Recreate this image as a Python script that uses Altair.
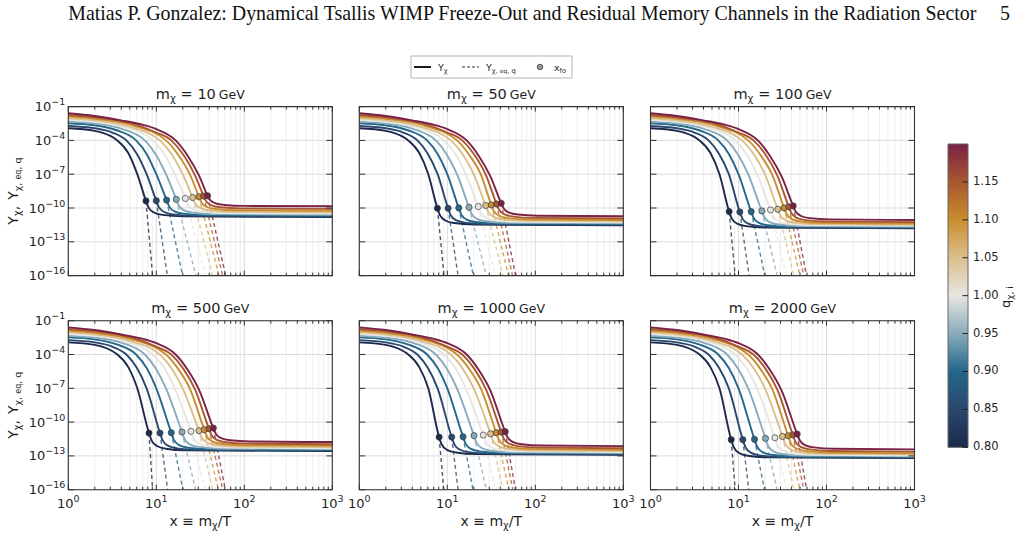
import altair as alt
import pandas as pd

# ---------------- values ----------------
Q = [0.80, 0.85, 0.90, 0.95, 1.00, 1.05, 1.10, 1.15, 1.20]
Q_COLORS = ["#1c294c", "#2a476d", "#23678a", "#88abbb", "#e7e6e1",
            "#dbbe8c", "#ca8d2d", "#a8572f", "#7b2145"]
MASSES = ["10", "50", "100", "500", "1000", "2000"]

# equilibrium branch (log10 x, log10 Y) before freeze-out, one list per q
EQ_LOGX = [
    [0.00, 0.30, 0.477, 0.557, 0.68, 0.784],
    [0.00, 0.30, 0.50, 0.66, 0.78, 0.89],
    [0.00, 0.30, 0.55, 0.77, 0.89, 1.00],
    [0.00, 0.30, 0.60, 0.87, 0.99, 1.11],
    [0.00, 0.30, 0.65, 0.96, 1.09, 1.21],
    [0.00, 0.30, 0.70, 1.04, 1.18, 1.30],
    [0.00, 0.30, 0.70, 1.11, 1.25, 1.38],
    [0.00, 0.30, 0.70, 1.00, 1.17, 1.31, 1.44],
    [0.00, 0.30, 0.60, 0.85, 1.00, 1.22, 1.36, 1.49],
]
EQ_LOGY = [
    [-2.92, -3.15, -3.60, -4.0, -5.1, -7.0],
    [-2.72, -2.92, -3.30, -4.0, -5.2, -7.0],
    [-2.48, -2.66, -3.10, -4.0, -5.2, -7.0],
    [-2.33, -2.50, -2.95, -4.0, -5.2, -7.0],
    [-2.18, -2.35, -2.85, -4.0, -5.2, -7.0],
    [-2.04, -2.22, -2.80, -4.0, -5.3, -7.0],
    [-1.89, -2.08, -2.60, -4.0, -5.3, -7.0],
    [-1.74, -1.95, -2.45, -3.3, -4.0, -5.3, -7.1],
    [-1.59, -1.83, -2.22, -2.62, -3.0, -4.0, -5.4, -7.2],
]

# freeze-out points x_fo (log10 x, log10 Y) per panel and q
FO_LOGX = [
    [0.883, 1.000, 1.117, 1.227, 1.330, 1.413, 1.485, 1.538, 1.583],
    [0.888, 1.009, 1.130, 1.247, 1.352, 1.436, 1.500, 1.560, 1.613],
    [0.894, 1.015, 1.144, 1.265, 1.364, 1.447, 1.519, 1.572, 1.621],
    [0.917, 1.042, 1.170, 1.292, 1.394, 1.485, 1.545, 1.598, 1.648],
    [0.907, 1.050, 1.179, 1.303, 1.409, 1.492, 1.557, 1.613, 1.658],
    [0.917, 1.049, 1.182, 1.307, 1.413, 1.500, 1.564, 1.617, 1.667],
]
FO_LOGY = [
    [-9.37, -9.35, -9.30, -9.23, -9.15, -9.07, -9.00, -8.94, -8.91],
    [-10.02, -10.02, -9.99, -9.93, -9.87, -9.78, -9.72, -9.64, -9.58],
    [-10.32, -10.35, -10.32, -10.26, -10.17, -10.11, -9.99, -9.90, -9.81],
    [-10.97, -10.97, -10.94, -10.88, -10.82, -10.76, -10.67, -10.58, -10.53],
    [-11.33, -11.33, -11.30, -11.20, -11.15, -11.03, -10.94, -10.88, -10.85],
    [-11.56, -11.56, -11.53, -11.45, -11.39, -11.27, -11.21, -11.12, -11.06],
]
# where each dashed Y_eq curve reaches 1e-16 (log10 x)
EQ_END_LOGX = [
    [0.958, 1.125, 1.299, 1.450, 1.561, 1.640, 1.712, 1.754, 1.788],
    [0.963, 1.122, 1.296, 1.443, 1.545, 1.632, 1.696, 1.741, 1.776],
    [0.962, 1.121, 1.299, 1.439, 1.545, 1.629, 1.697, 1.742, 1.773],
    [0.958, 1.129, 1.303, 1.447, 1.553, 1.640, 1.705, 1.754, 1.784],
    [0.960, 1.122, 1.292, 1.443, 1.545, 1.632, 1.700, 1.745, 1.775],
    [0.962, 1.117, 1.295, 1.439, 1.545, 1.629, 1.697, 1.742, 1.773],
]
END_LOGY = -16.0
# relic plateau (log10 Y) per panel and q
PLATEAU_LOGY = [
    [-10.80, -10.75, -10.68, -10.60, -10.50, -10.38, -10.25, -10.08, -9.85],
    [-11.53, -11.49, -11.43, -11.36, -11.28, -11.18, -11.07, -10.93, -10.73],
    [-11.80, -11.76, -11.71, -11.65, -11.57, -11.48, -11.38, -11.25, -11.06],
    [-12.57, -12.53, -12.47, -12.40, -12.32, -12.22, -12.11, -11.97, -11.77],
    [-12.90, -12.86, -12.80, -12.74, -12.66, -12.56, -12.46, -12.32, -12.13],
    [-13.20, -13.16, -13.10, -13.04, -12.96, -12.86, -12.76, -12.62, -12.42],
]
# settling after freeze-out: offset in log10 x, share of the drop
SETTLE_DLOGX = [0.03, 0.09, 0.19, 0.42]
SETTLE_FRAC = [0.42, 0.72, 0.87, 0.96]
LOGX_MAX = 3.0

X_MAJOR = [1, 10, 100, 1000]
X_EXP = ["0", "1", "2", "3"]
X_MINOR = [2, 3, 4, 5, 6, 7, 8, 9, 20, 30, 40, 50, 60, 70, 80, 90,
           200, 300, 400, 500, 600, 700, 800, 900]
Y_MAJOR = [1e-1, 1e-4, 1e-7, 1e-10, 1e-13, 1e-16]
Y_EXP = ["−1", "−4", "−7", "−10", "−13", "−16"]
CB_TICKS = [0.80, 0.85, 0.90, 0.95, 1.00, 1.05, 1.10, 1.15]
CB_LABELS = ["0.80", "0.85", "0.90", "0.95", "1.00", "1.05", "1.10", "1.15"]

HEADER = ("Matias P. Gonzalez: Dynamical Tsallis WIMP Freeze-Out and Residual "
          "Memory Channels in the Radiation Sector")
PAGE = "5"

# ---------------- tables ----------------
solid_rows, dash_rows, dot_rows = [], [], []
for p in range(6):
    for i, q in enumerate(Q):
        k = 0
        for lx, ly in zip(EQ_LOGX[i], EQ_LOGY[i]):
            solid_rows.append(dict(panel=p, q=q, k=k, x=10 ** lx, y=10 ** ly)); k += 1
        fx, fy, pl = FO_LOGX[p][i], FO_LOGY[p][i], PLATEAU_LOGY[p][i]
        solid_rows.append(dict(panel=p, q=q, k=k, x=10 ** fx, y=10 ** fy)); k += 1
        for dlx, fr in zip(SETTLE_DLOGX, SETTLE_FRAC):
            solid_rows.append(dict(panel=p, q=q, k=k, x=10 ** (fx + dlx),
                                   y=10 ** (fy - fr * (fy - pl)))); k += 1
        solid_rows.append(dict(panel=p, q=q, k=k, x=10 ** LOGX_MAX, y=10 ** pl))
        dash_rows.append(dict(panel=p, q=q, k=0, x=10 ** fx, y=10 ** fy))
        dash_rows.append(dict(panel=p, q=q, k=1, x=10 ** EQ_END_LOGX[p][i], y=10 ** END_LOGY))
        dot_rows.append(dict(panel=p, q=q, x=10 ** fx, y=10 ** fy))
solid_df = pd.DataFrame(solid_rows)
dash_df = pd.DataFrame(dash_rows)
dot_df = pd.DataFrame(dot_rows)
xmaj_df = pd.DataFrame({"v": X_MAJOR, "base": ["10"] * len(X_MAJOR), "sup": X_EXP})
xmin_df = pd.DataFrame({"v": X_MINOR})
ymaj_df = pd.DataFrame({"v": Y_MAJOR, "base": ["10"] * len(Y_MAJOR), "sup": Y_EXP,
                        "n": [len(s) for s in Y_EXP]})
cb_df = pd.DataFrame({"lo": [Q[0]], "hi": [Q[-1]]})
cbt_df = pd.DataFrame({"v": CB_TICKS, "lab": CB_LABELS})
ONE = pd.DataFrame({"k": [0]})

# ---------------- layout ----------------
PX0 = [68.3, 359.3, 650.5]
PY0 = [106.6, 320.7]
PW, PH = 264, 169
INK = "#1f1f1f"
FONT = "DejaVu Sans"
TICK_FS, SUP_FS = 13, 9.5

CW = {"0": .636, "1": .636, "2": .636, "3": .636, "4": .636, "5": .636, "6": .636,
      "7": .636, "8": .636, "9": .636, "m": .974, "x": .592, "Y": .611, "T": .611,
      "G": .776, "e": .615, "V": .684, "q": .635, "i": .278, "f": .352, "o": .612,
      ",": .318, " ": .318, "=": .838, "≡": .838, "/": .337, "χ": .593, "−": .838}


def tw(s, size):
    return sum(CW.get(ch, 0.6) for ch in s) * size


def label(s, x, y, size, angle=0, align="left", baseline="alphabetic", font=FONT, color=INK):
    kw = dict(text=s, align=align, baseline=baseline, fontSize=size, font=font, color=color)
    if angle:
        kw["angle"] = angle
    return alt.Chart(ONE).mark_text(**kw).encode(x=alt.value(x), y=alt.value(y))


def rich_h(pieces, x, base, center=True):
    total = sum(tw(t, s) if t is not None else s for t, s, d in pieces)
    cx = x - total / 2 if center else x
    out = []
    for t, s, d in pieces:
        if t is None:
            cx += s
            continue
        lead = len(t) - len(t.lstrip(" "))
        out.append(label(t.strip(" "), cx + tw(" " * lead, s), base + d, s))
        cx += tw(t, s)
    return out


def rich_v(pieces, base_x, cy):
    total = sum(tw(t, s) if t is not None else s for t, s, d in pieces)
    y = cy + total / 2
    out = []
    for t, s, d in pieces:
        if t is None:
            y -= s
            continue
        lead = len(t) - len(t.lstrip(" "))
        out.append(label(t.strip(" "), base_x + d, y - tw(" " * lead, s), s, angle=270))
        y -= tw(t, s)
    return out


cscale = alt.Scale(domain=Q, range=Q_COLORS)


def xsc(c):
    return alt.Scale(type="log", domain=[1, 1000], range=[PX0[c], PX0[c] + PW], nice=False)


def ysc(r):
    return alt.Scale(type="log", domain=[1e-16, 1e-1], range=[PY0[r] + PH, PY0[r]], nice=False)


layers = []
for p in range(6):
    c, r = p % 3, p // 3
    x0, y0 = PX0[c], PY0[r]
    xs, ys = xsc(c), ysc(r)
    X = lambda f: alt.X(f, scale=xs, axis=None)
    Y = lambda f: alt.Y(f, scale=ys, axis=None)
    # grid
    layers.append(alt.Chart(xmin_df).mark_rule(color="#ebebeb", strokeWidth=0.8).encode(
        x=X("v:Q"), y=alt.value(y0), y2=alt.value(y0 + PH)))
    layers.append(alt.Chart(xmaj_df).mark_rule(color="#d9d9d9", strokeWidth=0.9).encode(
        x=X("v:Q"), y=alt.value(y0), y2=alt.value(y0 + PH)))
    layers.append(alt.Chart(ymaj_df).mark_rule(color="#d9d9d9", strokeWidth=0.9).encode(
        y=Y("v:Q"), x=alt.value(x0), x2=alt.value(x0 + PW)))
    # curves
    flt = alt.datum.panel == p
    layers.append(alt.Chart(dash_df).transform_filter(flt).mark_line(
        strokeWidth=1.4, strokeDash=[4, 3], opacity=0.78, interpolate="monotone").encode(
        x=X("x:Q"), y=Y("y:Q"), color=alt.Color("q:Q", scale=cscale, legend=None),
        detail="q:N", order=alt.Order("k:Q")))
    layers.append(alt.Chart(solid_df).transform_filter(flt).mark_line(
        strokeWidth=1.9, interpolate="monotone").encode(
        x=X("x:Q"), y=Y("y:Q"), color=alt.Color("q:Q", scale=cscale, legend=None),
        detail="q:N", order=alt.Order("k:Q")))
    layers.append(alt.Chart(dot_df).transform_filter(flt).mark_circle(
        size=38, opacity=1, stroke="#3a3a3a", strokeWidth=0.7).encode(
        x=X("x:Q"), y=Y("y:Q"), color=alt.Color("q:Q", scale=cscale, legend=None)))
    # frame
    layers.append(alt.Chart(ONE).mark_rect(fill="transparent", stroke="#333333", strokeWidth=1.1).encode(
        x=alt.value(x0), x2=alt.value(x0 + PW), y=alt.value(y0), y2=alt.value(y0 + PH)))
    # inward ticks
    tk = dict(color="#333333", strokeWidth=1)
    layers.append(alt.Chart(xmaj_df).mark_rule(**tk).encode(
        x=X("v:Q"), y=alt.value(y0 + PH), y2=alt.value(y0 + PH - 5)))
    layers.append(alt.Chart(xmaj_df).mark_rule(**tk).encode(
        x=X("v:Q"), y=alt.value(y0), y2=alt.value(y0 + 5)))
    layers.append(alt.Chart(xmin_df).mark_rule(**tk).encode(
        x=X("v:Q"), y=alt.value(y0 + PH), y2=alt.value(y0 + PH - 3)))
    layers.append(alt.Chart(xmin_df).mark_rule(**tk).encode(
        x=X("v:Q"), y=alt.value(y0), y2=alt.value(y0 + 3)))
    layers.append(alt.Chart(ymaj_df).mark_rule(**tk).encode(
        y=Y("v:Q"), x=alt.value(x0), x2=alt.value(x0 + 6)))
    layers.append(alt.Chart(ymaj_df).mark_rule(**tk).encode(
        y=Y("v:Q"), x=alt.value(x0 + PW - 6), x2=alt.value(x0 + PW)))
    # tick labels (10 with a raised exponent)
    if c == 0:
        lab_x = x0 - 3
        layers.append(alt.Chart(ymaj_df).mark_text(
            align="right", baseline="middle", fontSize=SUP_FS, font=FONT, color=INK, dy=-4.5).encode(
            y=Y("v:Q"), x=alt.value(lab_x), text="sup:N"))
        for n in (2, 3):
            w = tw("−" + "1" * (n - 1), SUP_FS)
            layers.append(alt.Chart(ymaj_df).transform_filter(alt.datum.n == n).mark_text(
                align="right", baseline="middle", fontSize=TICK_FS, font=FONT, color=INK,
                dx=-w, dy=0.5).encode(
                y=Y("v:Q"), x=alt.value(lab_x), text="base:N"))
        layers += rich_v([("Y", 14, 0), ("χ", 9.8, 3), (",", 14, 0), (None, 6, 0), ("Y", 14, 0),
                          ("χ, ", 9.5, 3), ("eq", 8, 3), (", q", 9.5, 3)], 17.5, y0 + PH / 2)
    if r == 1:
        bw = tw("10", TICK_FS)
        sw = tw("0", SUP_FS)
        layers.append(alt.Chart(xmaj_df).mark_text(
            align="left", baseline="alphabetic", fontSize=TICK_FS, font=FONT, color=INK,
            dx=-(bw + sw) / 2).encode(
            x=X("v:Q"), y=alt.value(y0 + PH + 18), text="base:N"))
        layers.append(alt.Chart(xmaj_df).mark_text(
            align="left", baseline="alphabetic", fontSize=SUP_FS, font=FONT, color=INK,
            dx=(bw - sw) / 2, dy=-5.5).encode(
            x=X("v:Q"), y=alt.value(y0 + PH + 18), text="sup:N"))
        layers += rich_h([("x ≡ m", 14, 0), ("χ", 9.8, 3.2), ("/T", 14, 0)],
                         x0 + PW / 2, y0 + PH + 36)
    # panel title
    layers += rich_h([("m", 14.5, 0), ("χ", 10.2, 3.4), (" = " + MASSES[p], 14.5, 0),
                      (None, 3, 0), ("GeV", 12.5, 0)], x0 + PW / 2, y0 - 8)

# colour bar
cbs = alt.Scale(domain=[Q[0], Q[-1]], range=[447.3, 144], nice=False, zero=False)
grad = alt.Gradient(gradient="linear", x1=0, y1=1, x2=0, y2=0,
                    stops=[alt.GradientStop(offset=(q - Q[0]) / (Q[-1] - Q[0]), color=col)
                           for q, col in zip(Q, Q_COLORS)])
layers.append(alt.Chart(cb_df).mark_rect(fill=grad, stroke="#666666", strokeWidth=1).encode(
    y=alt.Y("lo:Q", scale=cbs, axis=None), y2="hi:Q", x=alt.value(948), x2=alt.value(968)))
layers.append(alt.Chart(cbt_df).mark_rule(color="#222222", strokeWidth=1).encode(
    y=alt.Y("v:Q", scale=cbs, axis=None), x=alt.value(962.5), x2=alt.value(968)))
layers.append(alt.Chart(cbt_df).mark_text(
    align="left", baseline="middle", fontSize=11.5, font=FONT, color=INK).encode(
    y=alt.Y("v:Q", scale=cbs, axis=None), x=alt.value(973), text="lab:N"))
layers += rich_v([("q", 13, 0), ("χ, i", 9, 3)], 1010, 297)

# legend
layers.append(alt.Chart(ONE).mark_rect(fill="white", stroke="#b5b5b5", strokeWidth=1).encode(
    x=alt.value(411), x2=alt.value(572), y=alt.value(56), y2=alt.value(78)))
layers.append(alt.Chart(ONE).mark_rule(color="#1a1a1a", strokeWidth=2).encode(
    x=alt.value(414), x2=alt.value(431), y=alt.value(67)))
layers.append(alt.Chart(ONE).mark_rule(color="#333333", strokeWidth=1.2, strokeDash=[3, 2]).encode(
    x=alt.value(462), x2=alt.value(479), y=alt.value(67)))
layers.append(alt.Chart(ONE).mark_circle(size=30, opacity=1, color="#9a9a9a",
                                        stroke="#333333", strokeWidth=0.8).encode(
    x=alt.value(540), y=alt.value(67)))
layers += rich_h([("Y", 9.5, 0), ("χ", 6.7, 2.2)], 438, 70.5, center=False)
layers += rich_h([("Y", 9.5, 0), ("χ, ", 6.7, 2.2), ("eq", 5.8, 2.2), (", q", 6.7, 2.2)], 486, 70.5,
                 center=False)
layers += rich_h([("x", 9.5, 0), ("fo", 6.7, 2.2)], 554, 70.5, center=False)

# running head
layers.append(label(HEADER, 68.3, 20, 19.9, font="Liberation Serif", color="#111111"))
layers.append(label(PAGE, 1000, 20, 19.9, font="Liberation Serif", color="#111111"))

chart = alt.layer(*layers).resolve_scale(x="independent", y="independent").properties(
    width=1027, height=545, padding=0, background="white",
    autosize=alt.AutoSizeParams(type="none"),
).configure_view(stroke="transparent")

chart.save("out.html", embed_options={"renderer": "svg", "actions": False})
